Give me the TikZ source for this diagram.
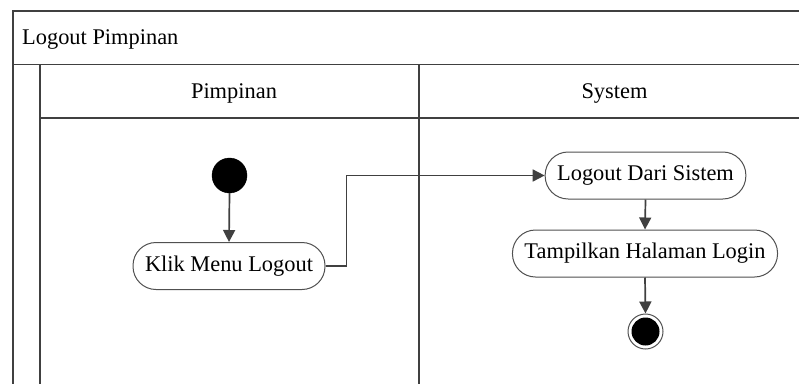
\documentclass[tikz,border=0pt]{standalone}
\usepackage{fontspec}
\setmainfont{Liberation Serif}
\usetikzlibrary{arrows.meta, positioning}
\definecolor{mylinegray}{HTML}{404040}
\definecolor{myboxgray}{HTML}{505050}

\tikzset{
  lane/.style={draw=mylinegray, line width=1.7pt},
  action/.style={draw=myboxgray, line width=1pt, rounded corners=23pt, minimum height=47pt, inner xsep=12pt, align=center, fill=white},
  flow/.style={draw=mylinegray, line width=1.7pt, -{Triangle[length=12pt, width=12pt]}},
  label/.style={inner sep=0pt}
}

\begin{document}
\begin{tikzpicture}[x=1pt, y=-1pt, font=\fontsize{22.4}{26}\selectfont]
  \path[use as bounding box, clip] (0,0) rectangle (799,383);

  % Pool and lanes
  \draw[lane] (13,11) rectangle (900,500);
  \draw[lane] (13,64.5) -- (900,64.5);
  \draw[lane] (40,64.5) -- (40,500);
  \draw[lane] (40,118) -- (900,118);
  \draw[lane] (419,64.5) -- (419,500);

  \node (pool) at (22,39) [label, anchor=west] {Logout Pimpinan};
  \node (pimpinan) at (234,93) [label] {Pimpinan};
  \node (system) at (614.5,93) [label] {System};

  % Start
  \node (start) at (229.5,175.5) [circle, fill=black, draw=black, minimum size=35pt, inner sep=0pt] {};

  % Pimpinan
  \node (klik) at (229,266) [action] {Klik Menu Logout};

  % System
  \node (logout) at (645.5,175.5) [action] {Logout Dari Sistem};
  \node (tampil) at (645,253.5) [action] {Tampilkan Halaman Login};

  % End
  \node (end) at (645.5,331.5) [circle, draw=myboxgray, line width=1pt, minimum size=35pt, inner sep=0pt,
    path picture={\fill[black] (path picture bounding box.center) circle (14pt);}] {};

  % Flows
  \draw[flow] (start.south) -- (klik.north);
  \draw[flow] (klik.east) -- ++(21,0) |- (logout.west);
  \draw[flow] (logout.south) -- (tampil.north);
  \draw[flow] (tampil.south) -- (end.north);
\end{tikzpicture}
\end{document}
